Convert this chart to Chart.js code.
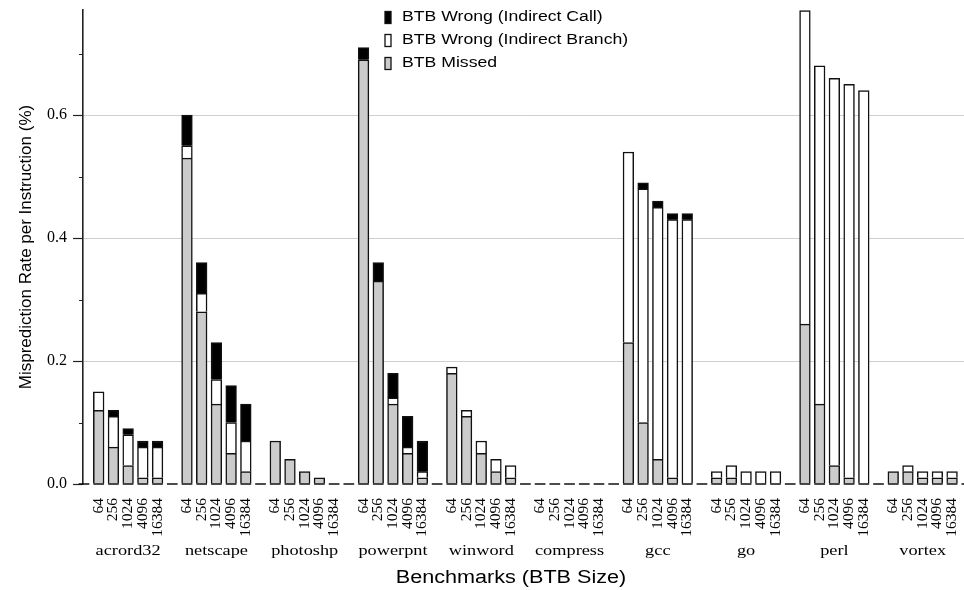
<!DOCTYPE html>
<html>
<head>
<meta charset="utf-8">
<title>BTB misprediction rate</title>
<script src="https://cdn.jsdelivr.net/npm/chart.js@4/dist/chart.umd.min.js"></script>
<style>
  html, body { margin: 0; padding: 0; background: #fff; overflow: hidden; }
  canvas { display: block; }
</style>
</head>
<body>
<canvas id="chart" width="964" height="590"></canvas>
<script>
// Benchmarks and the BTB sizes simulated for each of them
const benchmarks = ['acrord32', 'netscape', 'photoshp', 'powerpnt', 'winword',
                    'compress', 'gcc', 'go', 'perl', 'vortex'];
const btbSizes = ['64', '256', '1024', '4096', '16384'];

// Misprediction rate per instruction (%), one row per benchmark, one value per BTB size
const btbMissed = [
  [0.12, 0.06, 0.03, 0.01, 0.01],
  [0.53, 0.28, 0.13, 0.05, 0.02],
  [0.07, 0.04, 0.02, 0.01, 0.00],
  [0.69, 0.33, 0.13, 0.05, 0.01],
  [0.18, 0.11, 0.05, 0.02, 0.01],
  [0.00, 0.00, 0.00, 0.00, 0.00],
  [0.23, 0.10, 0.04, 0.01, 0.00],
  [0.01, 0.01, 0.00, 0.00, 0.00],
  [0.26, 0.13, 0.03, 0.01, 0.00],
  [0.02, 0.02, 0.01, 0.01, 0.01]
];
const wrongIndirectBranch = [
  [0.03, 0.05, 0.05, 0.05, 0.05],
  [0.02, 0.03, 0.04, 0.05, 0.05],
  [0.00, 0.00, 0.00, 0.00, 0.00],
  [0.00, 0.00, 0.01, 0.01, 0.01],
  [0.01, 0.01, 0.02, 0.02, 0.02],
  [0.00, 0.00, 0.00, 0.00, 0.00],
  [0.31, 0.38, 0.41, 0.42, 0.43],
  [0.01, 0.02, 0.02, 0.02, 0.02],
  [0.51, 0.55, 0.63, 0.64, 0.64],
  [0.00, 0.01, 0.01, 0.01, 0.01]
];
const wrongIndirectCall = [
  [0.00, 0.01, 0.01, 0.01, 0.01],
  [0.05, 0.05, 0.06, 0.06, 0.06],
  [0.00, 0.00, 0.00, 0.00, 0.00],
  [0.02, 0.03, 0.04, 0.05, 0.05],
  [0.00, 0.00, 0.00, 0.00, 0.00],
  [0.00, 0.00, 0.00, 0.00, 0.00],
  [0.00, 0.01, 0.01, 0.01, 0.01],
  [0.00, 0.00, 0.00, 0.00, 0.00],
  [0.00, 0.00, 0.00, 0.00, 0.00],
  [0.00, 0.00, 0.00, 0.00, 0.00]
];

// Slot layout along x: an empty slot, then each benchmark's five sizes followed by an empty slot
const GROUP = btbSizes.length + 1;
const slotLabels = [''];
benchmarks.forEach(() => slotLabels.push(...btbSizes, ''));
const slotOf = (g, k) => 1 + g * GROUP + k;

function toPoints(series) {
  const pts = [];
  series.forEach((row, g) => row.forEach((v, k) => pts.push({ x: slotOf(g, k), y: v })));
  return pts;
}

const BORDER = '#111';
const BAR_WIDTH = 10.7;

// Baseline segments under every slot, minor y ticks, group names, axis title and legend
const decorations = {
  id: 'decorations',
  afterDatasetsDraw(chart) {
    const { ctx, scales: { x, y } } = chart;
    const w = BAR_WIDTH;
    const y0 = y.getPixelForValue(0);
    ctx.save();
    ctx.strokeStyle = BORDER;
    ctx.lineWidth = 1.6;
    ctx.beginPath();
    for (let i = 0; i < slotLabels.length; i++) {
      const px = x.getPixelForValue(i);
      ctx.moveTo(px - w / 2, y0);
      ctx.lineTo(px + w / 2, y0);
    }
    ctx.stroke();

    ctx.strokeStyle = '#222';
    ctx.lineWidth = 1.2;
    ctx.beginPath();
    y.ticks.forEach(t => {
      if (Math.round(t.value * 10) % 2 === 1) {
        const py = Math.round(y.getPixelForValue(t.value)) + 0.5;
        ctx.moveTo(y.right - 4, py);
        ctx.lineTo(y.right, py);
      }
    });
    ctx.stroke();
    ctx.restore();
  },
  afterDraw(chart) {
    const { ctx, scales: { x } } = chart;
    const wide = (text, cx, cy, font, sx, align, baseline) => {
      ctx.save();
      ctx.translate(cx, cy);
      ctx.scale(sx, 1);
      ctx.font = font;
      ctx.fillStyle = '#000';
      ctx.textAlign = align;
      ctx.textBaseline = baseline;
      ctx.fillText(text, 0, 0);
      ctx.restore();
    };

    benchmarks.forEach((name, g) => {
      wide(name, x.getPixelForValue(slotOf(g, 2)), 555,
           '15px "Liberation Serif"', 1.22, 'center', 'alphabetic');
    });

    wide('Benchmarks (BTB Size)', 511, 578, '18px "Liberation Sans"', 1.2, 'center', 'middle');

    // Legend, top entry drawn first
    const order = [2, 1, 0];
    order.forEach((di, r) => {
      const ds = chart.data.datasets[di];
      const cy = 17.5 + r * 23;
      ctx.save();
      ctx.fillStyle = ds.backgroundColor;
      ctx.strokeStyle = BORDER;
      ctx.lineWidth = 1.3;
      ctx.fillRect(385, cy - 6, 6, 12);
      ctx.strokeRect(385, cy - 6, 6, 12);
      ctx.restore();
      wide(ds.label, 402, cy, '14px "Liberation Sans"', 1.26, 'left', 'middle');
    });
  }
};

const isEven = v => Math.round(v * 10) % 2 === 0;

new Chart(document.getElementById('chart'), {
  type: 'bar',
  data: {
    datasets: [
      { label: 'BTB Missed', data: toPoints(btbMissed),
        backgroundColor: '#cbcbcb', borderColor: BORDER, borderWidth: 1.5 },
      { label: 'BTB Wrong (Indirect Branch)', data: toPoints(wrongIndirectBranch),
        backgroundColor: '#ffffff', borderColor: BORDER, borderWidth: 1.5 },
      { label: 'BTB Wrong (Indirect Call)', data: toPoints(wrongIndirectCall),
        backgroundColor: '#000000', borderColor: BORDER, borderWidth: 1.5 }
    ]
  },
  options: {
    responsive: false,
    animation: false,
    events: [],
    layout: { padding: { top: 10, right: 0, bottom: 0, left: 0 } },
    datasets: { bar: { barThickness: BAR_WIDTH } },
    plugins: { legend: { display: false }, tooltip: { enabled: false }, title: { display: false } },
    scales: {
      x: {
        type: 'linear',
        stacked: true,
        offset: false,
        bounds: 'data',
        min: -0.067,
        max: 59.81,
        grid: { display: false, drawTicks: false, offset: false },
        border: { display: false },
        ticks: {
          autoSkip: false,
          minRotation: 90,
          maxRotation: 90,
          padding: 14,
          color: '#000',
          font: { family: 'Liberation Serif', size: 15.5 },
          callback: (v, i, ticks) => slotLabels[ticks[i].value] ?? ''
        },
        afterBuildTicks: s => {
          s.ticks = slotLabels.map((_, i) => ({ value: i })).filter(t => t.value <= s.max);
        },
        afterFit: s => { s.height = 106; s.paddingLeft = 0; s.paddingRight = 0; }
      },
      y: {
        stacked: true,
        min: 0,
        max: 0.771,
        ticks: {
          stepSize: 0.1,
          includeBounds: false,
          padding: 6,
          color: '#000',
          font: { family: 'Liberation Serif', size: 16 },
          callback: v => isEven(v) ? v.toFixed(1) : ''
        },
        grid: {
          drawTicks: true,
          tickLength: 10,
          lineWidth: 1,
          tickWidth: 1.2,
          color: c => (c.tick && isEven(c.tick.value) && c.tick.value > 0.05) ? '#cfcfcf' : 'rgba(0,0,0,0)',
          tickColor: c => (c.tick && isEven(c.tick.value)) ? '#222' : 'rgba(0,0,0,0)'
        },
        border: { display: true, color: '#222', width: 1.6 },
        title: {
          display: true,
          text: 'Misprediction Rate per Instruction (%)',
          color: '#000',
          font: { family: 'Liberation Sans', size: 17 },
          padding: { top: 16, bottom: 0 }
        },
        afterFit: s => { s.width = 83; s.paddingTop = 0; s.paddingBottom = 0; }
      }
    }
  },
  plugins: [decorations]
});
</script>
</body>
</html>
